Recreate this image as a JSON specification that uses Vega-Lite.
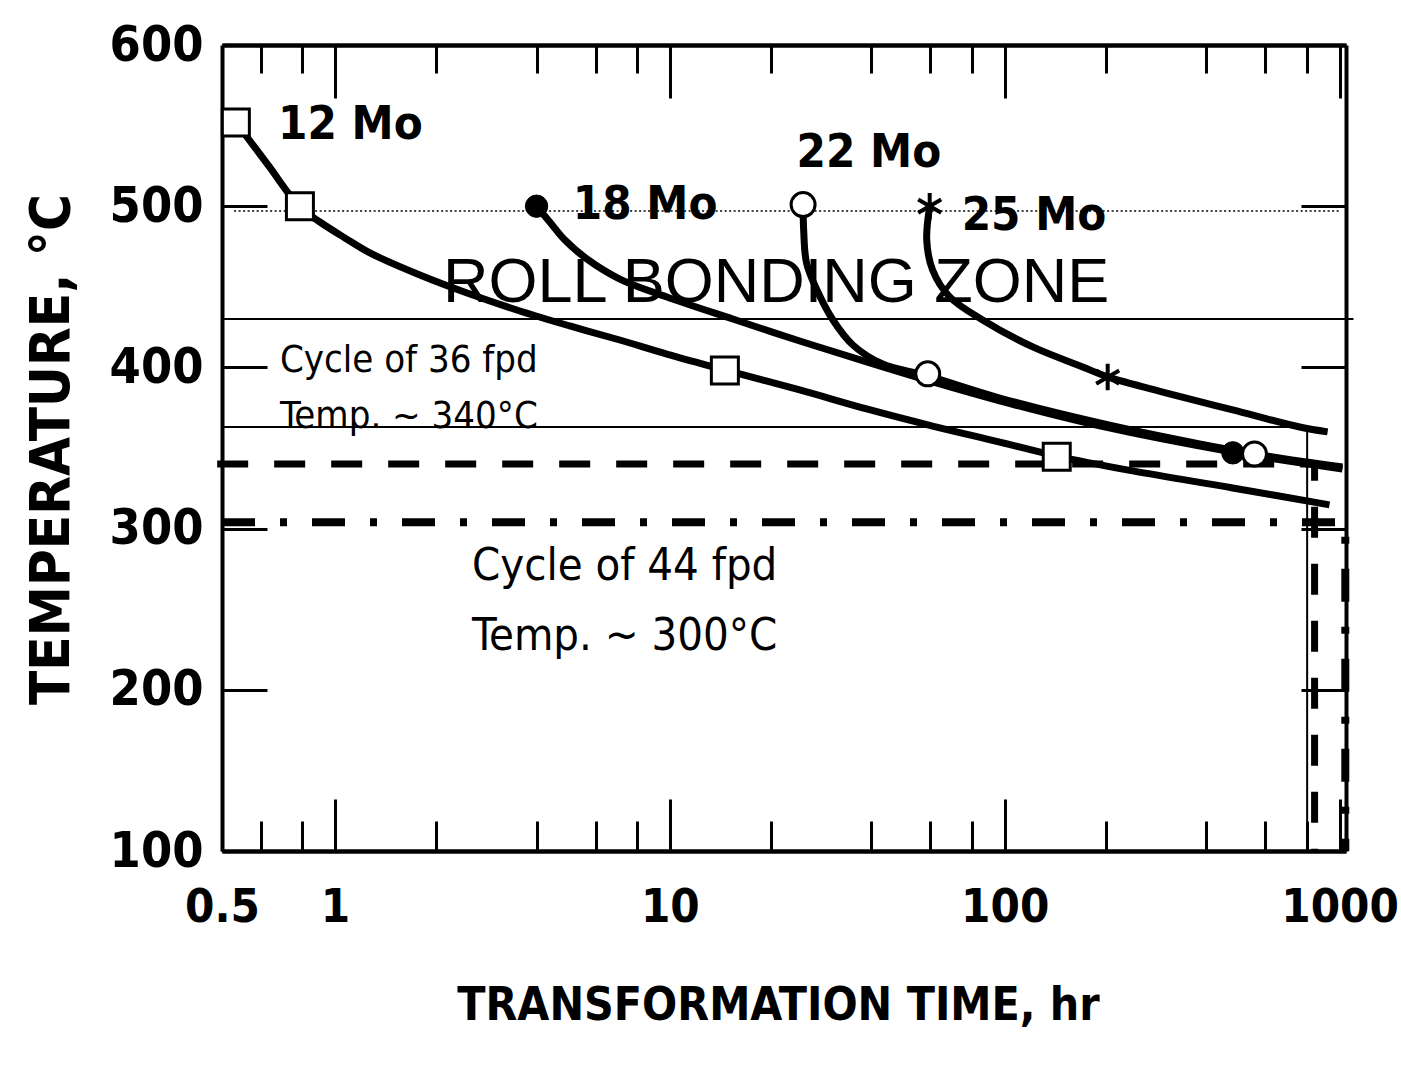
{
  "$schema": "https://vega.github.io/schema/vega-lite/v6.json",
  "width": 1124,
  "height": 806,
  "autosize": "none",
  "padding": {"left": 222, "top": 45, "right": 55, "bottom": 233},
  "background": "white",
  "config": {
    "view": {"stroke": null},
    "axis": {"domainColor": "#000", "domainWidth": 4, "tickColor": "#000", "tickWidth": 3, "grid": false, "labelColor": "#000", "titleColor": "#000", "labelOverlap": false, "labelFlush": false}
  },
  "datasets": {
    "curves": [
      {"s": "12 Mo", "o": 1, "t": 0.506, "T": 552.2},
      {"s": "12 Mo", "o": 2, "t": 0.631, "T": 525.6},
      {"s": "12 Mo", "o": 3, "t": 0.786, "T": 499.5},
      {"s": "12 Mo", "o": 4, "t": 0.902, "T": 490.2},
      {"s": "12 Mo", "o": 5, "t": 1.071, "T": 480.3},
      {"s": "12 Mo", "o": 6, "t": 1.272, "T": 471.0},
      {"s": "12 Mo", "o": 7, "t": 1.793, "T": 457.3},
      {"s": "12 Mo", "o": 8, "t": 2.529, "T": 445.5},
      {"s": "12 Mo", "o": 9, "t": 3.566, "T": 435.0},
      {"s": "12 Mo", "o": 10, "t": 5.03, "T": 425.7},
      {"s": "12 Mo", "o": 11, "t": 7.09, "T": 417.0},
      {"s": "12 Mo", "o": 12, "t": 9.8, "T": 408.3},
      {"s": "12 Mo", "o": 13, "t": 14.59, "T": 398.4},
      {"s": "12 Mo", "o": 14, "t": 24.43, "T": 386.0},
      {"s": "12 Mo", "o": 15, "t": 38.7, "T": 374.2},
      {"s": "12 Mo", "o": 16, "t": 60.9, "T": 363.6},
      {"s": "12 Mo", "o": 17, "t": 96.6, "T": 353.7},
      {"s": "12 Mo", "o": 18, "t": 142.9, "T": 345.0},
      {"s": "12 Mo", "o": 19, "t": 241, "T": 335.8},
      {"s": "12 Mo", "o": 20, "t": 479.6, "T": 325.2},
      {"s": "12 Mo", "o": 21, "t": 933, "T": 314.7},
      {"s": "18 Mo", "o": 1, "t": 4.0, "T": 500},
      {"s": "18 Mo", "o": 2, "t": 4.38, "T": 490.2},
      {"s": "18 Mo", "o": 3, "t": 4.86, "T": 479.0},
      {"s": "18 Mo", "o": 4, "t": 5.65, "T": 467.3},
      {"s": "18 Mo", "o": 5, "t": 7.09, "T": 454.8},
      {"s": "18 Mo", "o": 6, "t": 9.8, "T": 443.7},
      {"s": "18 Mo", "o": 7, "t": 15.42, "T": 430.0},
      {"s": "18 Mo", "o": 8, "t": 24.43, "T": 416.4},
      {"s": "18 Mo", "o": 9, "t": 38.7, "T": 403.4},
      {"s": "18 Mo", "o": 10, "t": 60.9, "T": 391.0},
      {"s": "18 Mo", "o": 11, "t": 96.6, "T": 379.2},
      {"s": "18 Mo", "o": 12, "t": 192.2, "T": 363.7},
      {"s": "18 Mo", "o": 13, "t": 479.6, "T": 347.5},
      {"s": "18 Mo", "o": 14, "t": 1020, "T": 337.0},
      {"s": "22 Mo", "o": 1, "t": 25.0, "T": 500},
      {"s": "22 Mo", "o": 2, "t": 25.1, "T": 485.2},
      {"s": "22 Mo", "o": 3, "t": 25.6, "T": 464.8},
      {"s": "22 Mo", "o": 4, "t": 27.5, "T": 448.0},
      {"s": "22 Mo", "o": 5, "t": 30.7, "T": 429.4},
      {"s": "22 Mo", "o": 6, "t": 35.2, "T": 413.9},
      {"s": "22 Mo", "o": 7, "t": 43.2, "T": 402.1},
      {"s": "22 Mo", "o": 8, "t": 58.9, "T": 394.7},
      {"s": "22 Mo", "o": 9, "t": 96.6, "T": 381.0},
      {"s": "22 Mo", "o": 10, "t": 192.2, "T": 365.5},
      {"s": "22 Mo", "o": 11, "t": 382, "T": 352.5},
      {"s": "22 Mo", "o": 12, "t": 557, "T": 346.3},
      {"s": "22 Mo", "o": 13, "t": 1020, "T": 338.2},
      {"s": "25 Mo", "o": 1, "t": 59.7, "T": 500},
      {"s": "25 Mo", "o": 2, "t": 58.5, "T": 479.0},
      {"s": "25 Mo", "o": 3, "t": 60.9, "T": 460.4},
      {"s": "25 Mo", "o": 4, "t": 68.5, "T": 443.7},
      {"s": "25 Mo", "o": 5, "t": 85.9, "T": 429.4},
      {"s": "25 Mo", "o": 6, "t": 121.3, "T": 412.7},
      {"s": "25 Mo", "o": 7, "t": 170.9, "T": 400.3},
      {"s": "25 Mo", "o": 8, "t": 203, "T": 394.1},
      {"s": "25 Mo", "o": 9, "t": 304.5, "T": 384.1},
      {"s": "25 Mo", "o": 10, "t": 479.6, "T": 373.6},
      {"s": "25 Mo", "o": 11, "t": 760, "T": 363.0},
      {"s": "25 Mo", "o": 12, "t": 921, "T": 360.0}
    ],
    "thin": [
      {"g": "a", "o": 1, "t": 0.46, "T": 430},
      {"g": "a", "o": 2, "t": 1100, "T": 430},
      {"g": "b", "o": 1, "t": 0.46, "T": 363},
      {"g": "b", "o": 2, "t": 800, "T": 363},
      {"g": "b", "o": 3, "t": 800, "T": 100}
    ],
    "dotted": [
      {"o": 1, "t": 0.5, "T": 497},
      {"o": 2, "t": 1000, "T": 497}
    ],
    "dashed": [
      {"o": 1, "t": 0.445, "T": 340},
      {"o": 2, "t": 842, "T": 340},
      {"o": 3, "t": 842, "T": 100}
    ],
    "dashdot": [
      {"o": 1, "t": 0.46, "T": 304},
      {"o": 2, "t": 1040, "T": 304},
      {"o": 3, "t": 1040, "T": 100}
    ],
    "squares": [
      {"t": 0.506, "T": 552},
      {"t": 0.786, "T": 500},
      {"t": 14.6, "T": 398},
      {"t": 143, "T": 344.5}
    ],
    "filled": [
      {"t": 4.0, "T": 500},
      {"t": 480, "T": 347}
    ],
    "open": [
      {"t": 25.0, "T": 501},
      {"t": 58.9, "T": 396},
      {"t": 557, "T": 346.3}
    ],
    "stars": [
      {"t": 59.7, "T": 500},
      {"t": 203, "T": 394}
    ],
    "molabels": [
      {"label": "12 Mo", "t": 0.676, "T": 541.8},
      {"label": "18 Mo", "t": 5.13, "T": 492},
      {"label": "22 Mo", "t": 23.9, "T": 524.3},
      {"label": "25 Mo", "t": 74.4, "T": 485.2}
    ],
    "zone": [
      {"label": "ROLL BONDING ZONE", "t": 2.102, "T": 440.6}
    ],
    "cycle36": [
      {"label": "Cycle of 36 fpd", "t": 0.685, "T": 397.2},
      {"label": "Temp. ~ 340°C", "t": 0.685, "T": 362.4}
    ],
    "cycle44": [
      {"label": "Cycle of 44 fpd", "t": 2.565, "T": 268.1},
      {"label": "Temp. ~ 300°C", "t": 2.565, "T": 224.7}
    ]
  },
  "layer": [
    {
      "data": {"name": "thin"},
      "mark": {"type": "line", "color": "#000", "strokeWidth": 2},
      "encoding": {
        "x": {"field": "t", "type": "quantitative", "scale": {"type": "log", "domain": [0.46, 1045], "nice": false},
          "axis": {"orient": "bottom", "values": [0.6, 0.8, 2, 4, 6, 8, 20, 40, 60, 80, 200, 400, 600, 800], "tickSize": -30, "labels": false, "title": null}},
        "y": {"field": "T", "type": "quantitative", "scale": {"domain": [100, 600], "nice": false, "zero": false},
          "axis": {"orient": "right", "values": [200, 300, 400, 500], "tickSize": -45, "labels": false, "title": null}},
        "detail": {"field": "g"},
        "order": {"field": "o", "type": "quantitative"}
      }
    },
    {
      "data": {"name": "dotted"},
      "mark": {"type": "line", "color": "#000", "strokeWidth": 1.5, "strokeDash": [2, 2.5]},
      "encoding": {
        "x": {"field": "t", "type": "quantitative", "scale": {"type": "log", "domain": [0.46, 1045], "nice": false},
          "axis": {"orient": "top", "values": [1, 10, 100, 1000], "tickSize": -53, "labels": false, "title": null}},
        "y": {"field": "T", "type": "quantitative", "scale": {"domain": [100, 600], "nice": false, "zero": false}, "axis": null},
        "order": {"field": "o", "type": "quantitative"}
      }
    },
    {
      "data": {"name": "dashed"},
      "mark": {"type": "line", "color": "#000", "strokeWidth": 7, "strokeDash": [31, 26]},
      "encoding": {
        "x": {"field": "t", "type": "quantitative", "scale": {"type": "log", "domain": [0.46, 1045], "nice": false},
          "axis": {"orient": "top", "values": [0.6, 0.8, 2, 4, 6, 8, 20, 40, 60, 80, 200, 400, 600, 800], "tickSize": -28, "labels": false, "title": null}},
        "y": {"field": "T", "type": "quantitative", "scale": {"domain": [100, 600], "nice": false, "zero": false}, "axis": null},
        "order": {"field": "o", "type": "quantitative"}
      }
    },
    {
      "data": {"name": "dashdot"},
      "mark": {"type": "line", "color": "#000", "strokeWidth": 8, "strokeDash": [33, 25, 7, 25]},
      "encoding": {
        "x": {"field": "t", "type": "quantitative", "scale": {"type": "log", "domain": [0.46, 1045], "nice": false}, "axis": null},
        "y": {"field": "T", "type": "quantitative", "scale": {"domain": [100, 600], "nice": false, "zero": false}, "axis": null},
        "order": {"field": "o", "type": "quantitative"}
      }
    },
    {
      "data": {"name": "zone"},
      "mark": {"type": "text", "align": "left", "baseline": "alphabetic", "font": "Liberation Sans, Arial, sans-serif", "fontSize": 63, "color": "#000"},
      "encoding": {
        "x": {"field": "t", "type": "quantitative", "scale": {"type": "log", "domain": [0.46, 1045], "nice": false}, "axis": null},
        "y": {"field": "T", "type": "quantitative", "scale": {"domain": [100, 600], "nice": false, "zero": false}, "axis": null},
        "text": {"field": "label"}
      }
    },
    {
      "data": {"name": "cycle36"},
      "mark": {"type": "text", "align": "left", "baseline": "alphabetic", "font": "DejaVu Sans Condensed, sans-serif", "fontSize": 38, "color": "#000"},
      "encoding": {
        "x": {"field": "t", "type": "quantitative", "scale": {"type": "log", "domain": [0.46, 1045], "nice": false}, "axis": null},
        "y": {"field": "T", "type": "quantitative", "scale": {"domain": [100, 600], "nice": false, "zero": false}, "axis": null},
        "text": {"field": "label"}
      }
    },
    {
      "data": {"name": "cycle44"},
      "mark": {"type": "text", "align": "left", "baseline": "alphabetic", "font": "DejaVu Sans Condensed, sans-serif", "fontSize": 45, "color": "#000"},
      "encoding": {
        "x": {"field": "t", "type": "quantitative", "scale": {"type": "log", "domain": [0.46, 1045], "nice": false}, "axis": null},
        "y": {"field": "T", "type": "quantitative", "scale": {"domain": [100, 600], "nice": false, "zero": false}, "axis": null},
        "text": {"field": "label"}
      }
    },
    {
      "data": {"name": "curves"},
      "mark": {"type": "line", "color": "#000", "strokeWidth": 7, "interpolate": "catmull-rom", "strokeJoin": "round"},
      "encoding": {
        "x": {"field": "t", "type": "quantitative", "scale": {"type": "log", "domain": [0.46, 1045], "nice": false},
          "axis": {"orient": "bottom", "values": [0.46, 1, 10, 100, 1000], "tickSize": -52, "labelPadding": 122, "labelBaseline": "alphabetic", "labelAlign": "center",
            "labelFont": "DejaVu Sans Condensed, sans-serif", "labelFontSize": 47, "labelFontWeight": "bold",
            "labelExpr": "datum.value < 0.5 ? '0.5' : '' + datum.value",
            "title": "TRANSFORMATION TIME, hr", "titleFont": "DejaVu Sans Condensed, sans-serif", "titleFontSize": 46, "titleFontWeight": "bold",
            "titleX": 556, "titleY": 168, "titleBaseline": "alphabetic", "titleAlign": "center", "titleAngle": 0}},
        "y": {"field": "T", "type": "quantitative", "scale": {"domain": [100, 600], "nice": false, "zero": false},
          "axis": {"orient": "left", "values": [100, 200, 300, 400, 500, 600], "tickSize": -45, "labelPadding": 64, "labelAlign": "right", "labelBaseline": "middle",
            "labelFont": "DejaVu Sans Condensed, sans-serif", "labelFontSize": 50, "labelFontWeight": "bold",
            "title": "TEMPERATURE, °C", "titleFont": "DejaVu Sans Condensed, sans-serif", "titleFontSize": 56, "titleFontWeight": "bold",
            "titleAngle": 270, "titleX": -154, "titleY": 404, "titleBaseline": "alphabetic", "titleAlign": "center"}},
        "detail": {"field": "s"},
        "order": {"field": "o", "type": "quantitative"}
      }
    },
    {
      "data": {"name": "squares"},
      "mark": {"type": "point", "shape": "square", "size": 729, "filled": true, "fill": "#fff", "stroke": "#000", "strokeWidth": 3, "opacity": 1},
      "encoding": {
        "x": {"field": "t", "type": "quantitative", "scale": {"type": "log", "domain": [0.46, 1045], "nice": false}, "axis": null},
        "y": {"field": "T", "type": "quantitative", "scale": {"domain": [100, 600], "nice": false, "zero": false}, "axis": null}
      }
    },
    {
      "data": {"name": "filled"},
      "mark": {"type": "point", "shape": "circle", "size": 500, "filled": true, "fill": "#000", "stroke": "#000", "strokeWidth": 1, "opacity": 1},
      "encoding": {
        "x": {"field": "t", "type": "quantitative", "scale": {"type": "log", "domain": [0.46, 1045], "nice": false}, "axis": null},
        "y": {"field": "T", "type": "quantitative", "scale": {"domain": [100, 600], "nice": false, "zero": false}, "axis": null}
      }
    },
    {
      "data": {"name": "open"},
      "mark": {"type": "point", "shape": "circle", "size": 576, "filled": true, "fill": "#fff", "stroke": "#000", "strokeWidth": 3, "opacity": 1},
      "encoding": {
        "x": {"field": "t", "type": "quantitative", "scale": {"type": "log", "domain": [0.46, 1045], "nice": false}, "axis": null},
        "y": {"field": "T", "type": "quantitative", "scale": {"domain": [100, 600], "nice": false, "zero": false}, "axis": null}
      }
    },
    {
      "data": {"name": "stars"},
      "mark": {"type": "point", "shape": "M0,-1L0,1M-0.87,-0.5L0.87,0.5M-0.87,0.5L0.87,-0.5", "size": 700, "filled": false, "stroke": "#000", "strokeWidth": 4, "opacity": 1},
      "encoding": {
        "x": {"field": "t", "type": "quantitative", "scale": {"type": "log", "domain": [0.46, 1045], "nice": false}, "axis": null},
        "y": {"field": "T", "type": "quantitative", "scale": {"domain": [100, 600], "nice": false, "zero": false}, "axis": null}
      }
    },
    {
      "data": {"name": "molabels"},
      "mark": {"type": "text", "align": "left", "baseline": "alphabetic", "font": "DejaVu Sans Condensed, sans-serif", "fontSize": 47, "fontWeight": "bold", "color": "#000"},
      "encoding": {
        "x": {"field": "t", "type": "quantitative", "scale": {"type": "log", "domain": [0.46, 1045], "nice": false}, "axis": null},
        "y": {"field": "T", "type": "quantitative", "scale": {"domain": [100, 600], "nice": false, "zero": false}, "axis": null},
        "text": {"field": "label"}
      }
    }
  ],
  "resolve": {"axis": {"x": "independent", "y": "independent"}}
}
